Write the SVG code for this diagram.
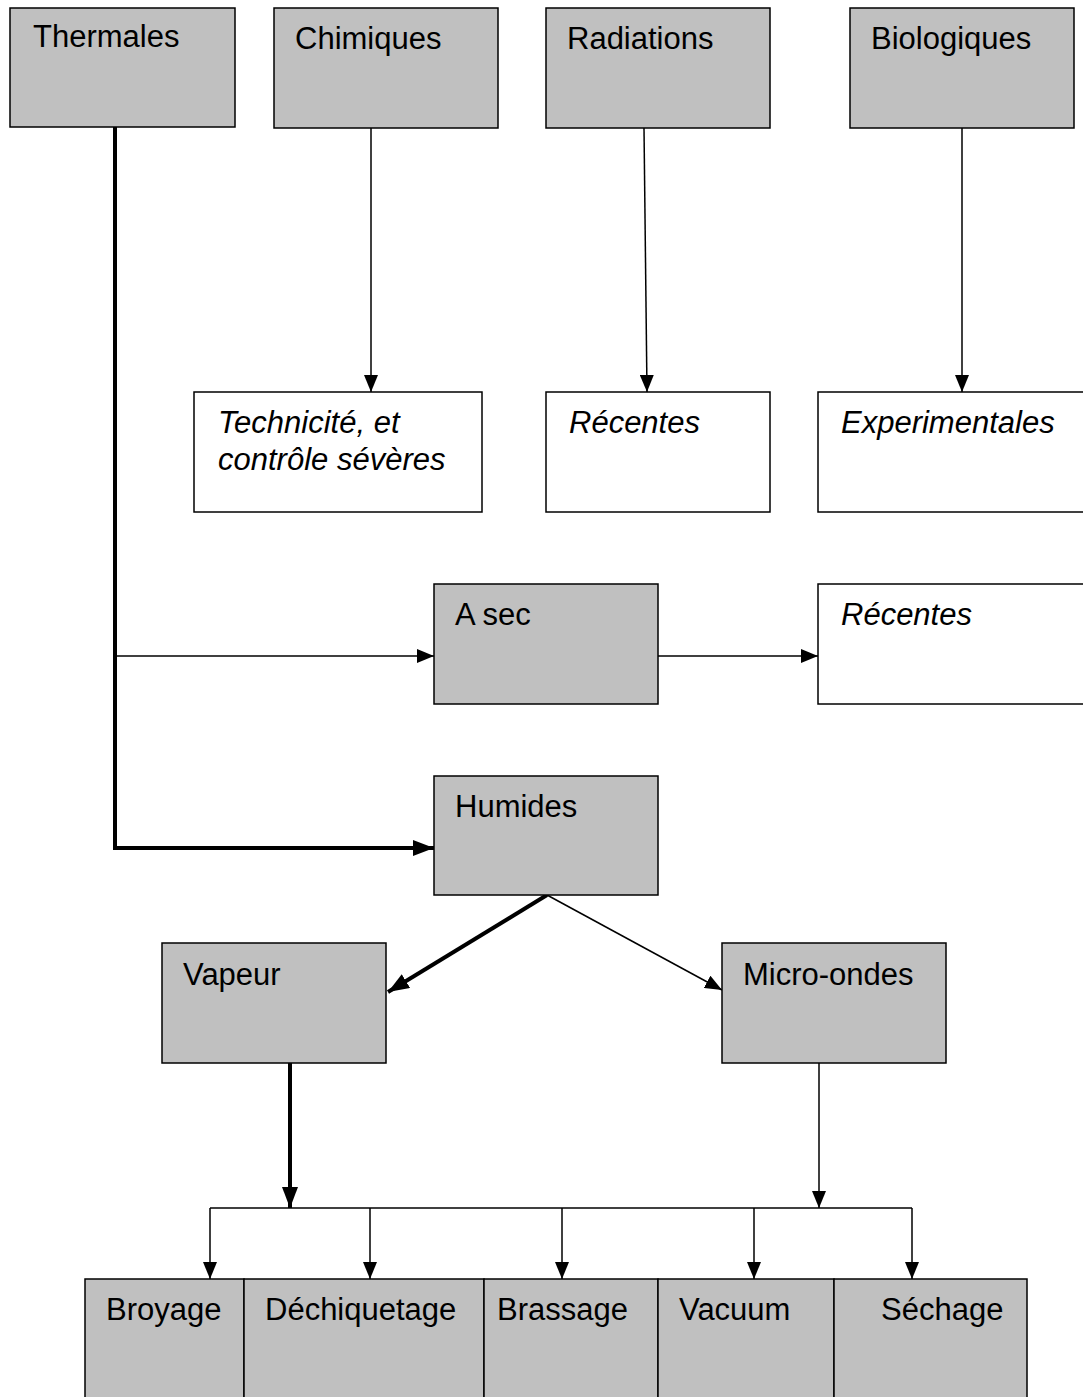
<svg xmlns="http://www.w3.org/2000/svg" width="1083" height="1397" viewBox="0 0 1083 1397">
<style>
.g{fill:#c0c0c0;stroke:#000;stroke-width:1.5}
.w{fill:#fff;stroke:#000;stroke-width:1.5}
text{font-family:"Liberation Sans",Arial,sans-serif;font-size:31px;fill:#000}
.i{font-style:italic}
.c{fill:none;stroke:#000;stroke-width:1.5}
.t{fill:none;stroke:#000;stroke-width:4}
</style>
<defs>
<marker id="a" markerUnits="userSpaceOnUse" markerWidth="18" markerHeight="14" refX="17" refY="7" orient="auto"><path d="M0,0 L17,7 L0,14 Z" fill="#000"/></marker>
<marker id="b" markerUnits="userSpaceOnUse" markerWidth="22" markerHeight="16" refX="21" refY="8" orient="auto"><path d="M0,0 L21,8 L0,16 Z" fill="#000"/></marker>
</defs>
<rect width="1083" height="1397" fill="#fff"/>
<g id="connectors">
<polyline class="t" points="115,127 115,848 414,848"/>
<line class="t" x1="414" y1="848" x2="434" y2="848" stroke-width="1" marker-end="url(#b)"/>
<line class="c" x1="115" y1="656" x2="434" y2="656" marker-end="url(#a)"/>
<line class="c" x1="371" y1="128" x2="371" y2="392" marker-end="url(#a)"/>
<line class="c" x1="644" y1="128" x2="647" y2="392" marker-end="url(#a)"/>
<line class="c" x1="962" y1="128" x2="962" y2="392" marker-end="url(#a)"/>
<line class="c" x1="658" y1="656" x2="818" y2="656" marker-end="url(#a)"/>
<line class="t" x1="547" y1="895" x2="388" y2="992" marker-end="url(#b)"/>
<line class="c" x1="547" y1="895" x2="722" y2="990" marker-end="url(#a)"/>
<line class="t" x1="290" y1="1063" x2="290" y2="1208" marker-end="url(#b)"/>
<line class="c" x1="819" y1="1063" x2="819" y2="1208" marker-end="url(#a)"/>
<line class="c" x1="210" y1="1208" x2="912" y2="1208"/>
<line class="c" x1="210" y1="1208" x2="210" y2="1279" marker-end="url(#a)"/>
<line class="c" x1="370" y1="1208" x2="370" y2="1279" marker-end="url(#a)"/>
<line class="c" x1="562" y1="1208" x2="562" y2="1279" marker-end="url(#a)"/>
<line class="c" x1="754" y1="1208" x2="754" y2="1279" marker-end="url(#a)"/>
<line class="c" x1="912" y1="1208" x2="912" y2="1279" marker-end="url(#a)"/>
</g>
<g id="thermales"><rect class="g" x="10" y="8" width="225" height="119"/><text x="33" y="47">Thermales</text></g>
<g id="chimiques"><rect class="g" x="274" y="8" width="224" height="120"/><text x="295" y="49">Chimiques</text></g>
<g id="radiations"><rect class="g" x="546" y="8" width="224" height="120"/><text x="567" y="49">Radiations</text></g>
<g id="biologiques"><rect class="g" x="850" y="8" width="224" height="120"/><text x="871" y="49">Biologiques</text></g>
<g id="technicite"><rect class="w" x="194" y="392" width="288" height="120"/><text class="i" x="218" y="433">Technicité, et</text><text class="i" x="218" y="470">contrôle sévères</text></g>
<g id="recentes1"><rect class="w" x="546" y="392" width="224" height="120"/><text class="i" x="569" y="433">Récentes</text></g>
<g id="experimentales"><rect class="w" x="818" y="392" width="280" height="120"/><text class="i" x="841" y="433">Experimentales</text></g>
<g id="asec"><rect class="g" x="434" y="584" width="224" height="120"/><text x="455" y="625">A sec</text></g>
<g id="recentes2"><rect class="w" x="818" y="584" width="280" height="120"/><text class="i" x="841" y="625">Récentes</text></g>
<g id="humides"><rect class="g" x="434" y="776" width="224" height="119"/><text x="455" y="817">Humides</text></g>
<g id="vapeur"><rect class="g" x="162" y="943" width="224" height="120"/><text x="183" y="985">Vapeur</text></g>
<g id="microondes"><rect class="g" x="722" y="943" width="224" height="120"/><text x="743" y="985">Micro-ondes</text></g>
<g id="broyage"><rect class="g" x="85" y="1279" width="159" height="130"/><text x="106" y="1320">Broyage</text></g>
<g id="dechiquetage"><rect class="g" x="244" y="1279" width="240" height="130"/><text x="265" y="1320">Déchiquetage</text></g>
<g id="brassage"><rect class="g" x="484" y="1279" width="174" height="130"/><text x="497" y="1320">Brassage</text></g>
<g id="vacuum"><rect class="g" x="658" y="1279" width="176" height="130"/><text x="679" y="1320">Vacuum</text></g>
<g id="sechage"><rect class="g" x="834" y="1279" width="193" height="130"/><text x="881" y="1320">Séchage</text></g>
</svg>
